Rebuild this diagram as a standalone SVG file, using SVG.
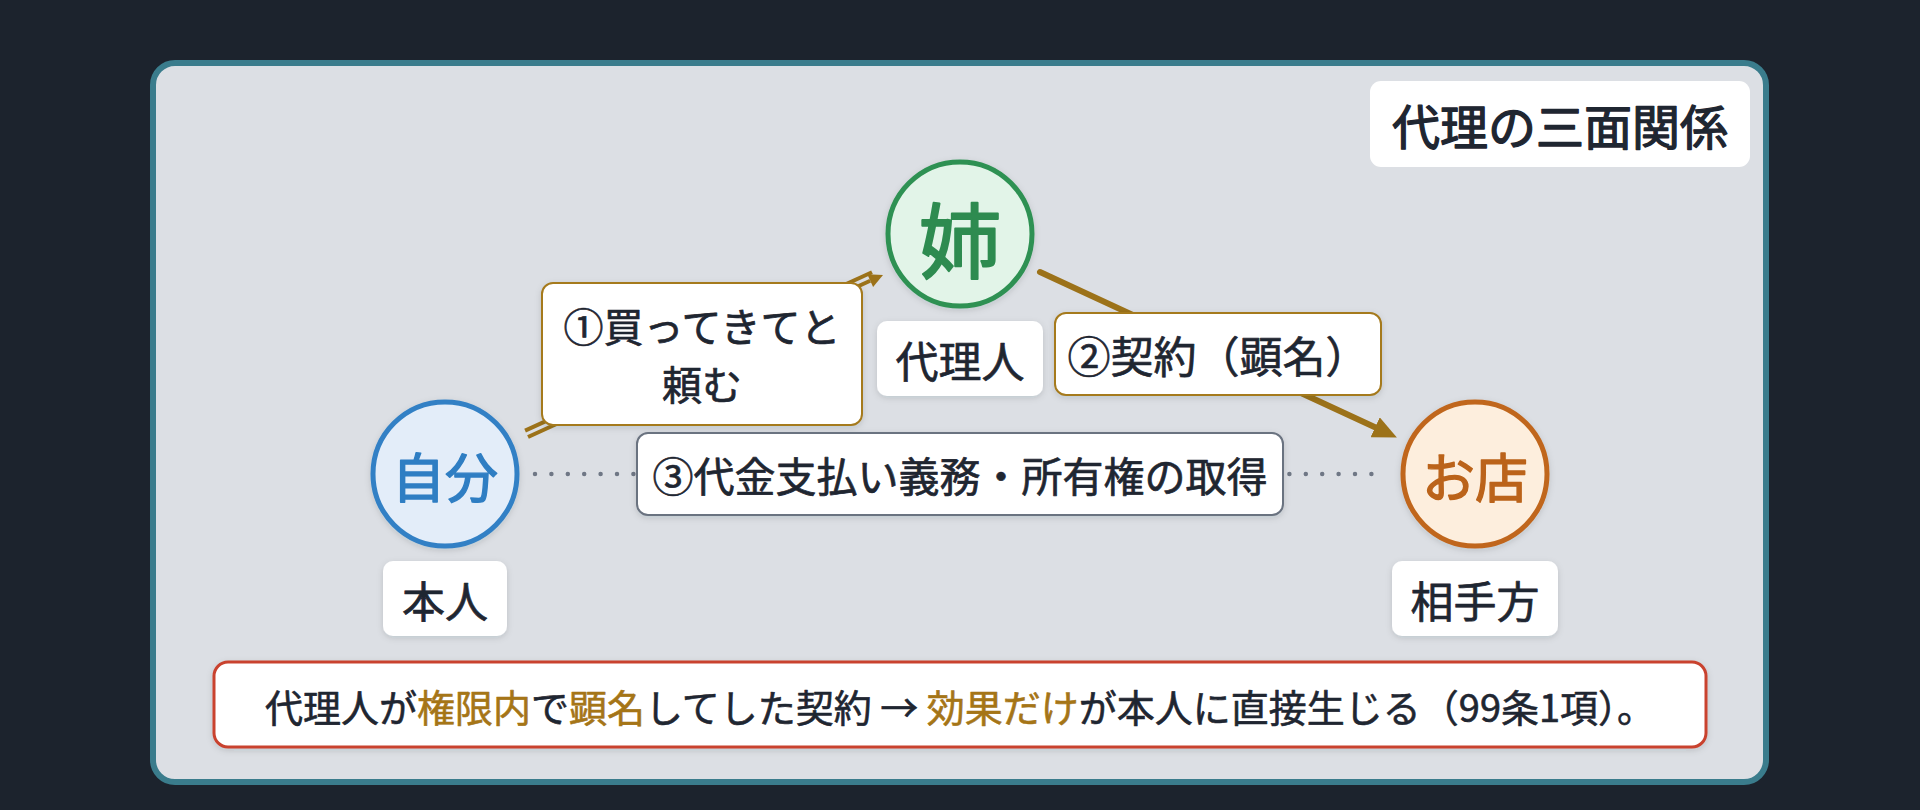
<svg xmlns="http://www.w3.org/2000/svg" width="1920" height="810" viewBox="0 0 1920 810">
  <defs>
    <style>
      text { font-family: "Noto Sans CJK JP", "Noto Sans", sans-serif; dominant-baseline: central; text-anchor: middle; color: #1f2631; fill: currentColor; stroke: currentColor; stroke-width: 0.7px; stroke-linejoin: round; font-weight: 400; }
      .card { fill: #ffffff; }
      .lbl { font-size: 43px; }
      .hl { color: #a57517; }
      .gold { stroke: #9c7219; fill: none; }
    </style>
    <filter id="sh" x="-20%" y="-20%" width="140%" height="150%">
      <feDropShadow dx="0" dy="2" stdDeviation="3" flood-color="#1c2430" flood-opacity="0.14"/>
    </filter>
    <marker id="ah" markerUnits="userSpaceOnUse" markerWidth="24" markerHeight="22" refX="13" refY="11" orient="auto">
      <path d="M0,0 L24,11 L0,22 Z" fill="#9c7219"/>
    </marker>
  </defs>

  <rect x="0" y="0" width="1920" height="810" fill="#1c232d"/>
  <rect id="frame" x="153" y="63" width="1613" height="719" rx="22" fill="#dcdfe4" stroke="#3a7c8c" stroke-width="6"/>

  <g id="title">
    <rect class="card" x="1370" y="81" width="380" height="86" rx="11"/>
    <text x="1560" y="124" font-size="48" style="stroke-width:1.3px">代理の三面関係</text>
  </g>

  <g id="connectors">
    <line id="c3" x1="535" y1="474" x2="1372" y2="474" stroke="#6f7785" stroke-width="4.5" stroke-linecap="round" stroke-dasharray="0 16.4"/>
    <g id="c1" fill="#9c7219">
      <line class="gold" x1="528" y1="437" x2="870.2" y2="280.7" stroke-width="4"/>
      <line class="gold" x1="525.1" y1="430.6" x2="872" y2="272.3" stroke-width="4"/>
      <polygon points="883,275 873.1,287.1 867.3,274.3"/>
    </g>
    <line id="c2" class="gold" x1="1040" y1="272" x2="1386.9" y2="432.8" stroke-width="6" stroke-linecap="round" marker-end="url(#ah)"/>
  </g>

  <g id="node-jibun">
    <circle cx="445" cy="474" r="72" fill="#e3edf9" stroke="#3280c5" stroke-width="5" filter="url(#sh)"/>
    <text x="445" y="475" font-size="53" style="color:#2f7ec3;stroke-width:1.4px">自分</text>
    <rect class="card" x="383" y="561" width="124" height="75" rx="10" filter="url(#sh)"/>
    <text class="lbl" x="445" y="599">本人</text>
  </g>

  <g id="node-ane">
    <circle cx="960" cy="234" r="72" fill="#e2f4e8" stroke="#2e9152" stroke-width="5" filter="url(#sh)"/>
    <text x="960" y="236" font-size="82" style="color:#2e8b50;stroke-width:2px">姉</text>
    <rect class="card" x="877" y="321" width="166" height="75" rx="10" filter="url(#sh)"/>
    <text class="lbl" x="960" y="359">代理人</text>
  </g>

  <g id="node-mise">
    <circle cx="1475" cy="474" r="72" fill="#fdeedd" stroke="#c0661b" stroke-width="5" filter="url(#sh)"/>
    <text x="1475" y="475" font-size="53" style="color:#bb631a;stroke-width:1.4px">お店</text>
    <rect class="card" x="1392" y="561" width="166" height="75" rx="10" filter="url(#sh)"/>
    <text class="lbl" x="1475" y="599">相手方</text>
  </g>

  <g id="label-1">
    <rect class="card" x="542" y="283" width="320" height="142" rx="11" stroke="#a57a1f" stroke-width="2" filter="url(#sh)"/>
    <text x="702" y="325" font-size="40">①買ってきてと</text>
    <text x="702" y="383" font-size="40">頼む</text>
  </g>

  <g id="label-2">
    <rect class="card" x="1055" y="313" width="326" height="82" rx="11" stroke="#a57a1f" stroke-width="2" filter="url(#sh)"/>
    <text x="1218" y="354" font-size="43">②契約（顕名）</text>
  </g>

  <g id="label-3">
    <rect class="card" x="637" y="433" width="646" height="82" rx="11" stroke="#6b7380" stroke-width="2" filter="url(#sh)"/>
    <text x="960" y="474" font-size="41">③代金支払い義務・所有権の取得</text>
  </g>

  <g id="note">
    <rect class="card" x="214" y="662" width="1492" height="85" rx="14" stroke="#c9432f" stroke-width="3" filter="url(#sh)"/>
    <text x="960" y="705" font-size="38" style="stroke-width:0.6px">代理人が<tspan class="hl">権限内</tspan>で<tspan class="hl">顕名</tspan>してした契約 → <tspan class="hl">効果だけ</tspan>が本人に直接生じる（99条1項）。</text>
  </g>
</svg>
